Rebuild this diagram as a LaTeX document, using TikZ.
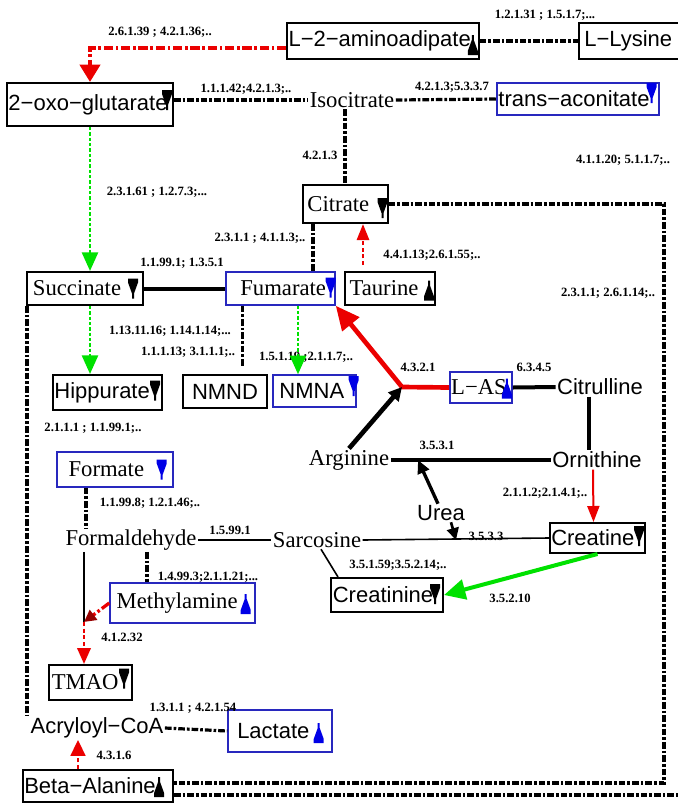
\documentclass[tikz,border=0pt]{standalone}
\usepackage{fontspec}
\setmainfont{Liberation Serif}
\setsansfont{Liberation Sans}
\usetikzlibrary{arrows.meta,calc}

\definecolor{boxblue}{RGB}{40,40,190}
\definecolor{mkblue}{RGB}{0,0,230}
\definecolor{ecred}{RGB}{235,0,0}
\definecolor{ecgreen}{RGB}{0,225,0}
\definecolor{darkred}{RGB}{150,0,0}

% 1px = 0.75pt
\newlength{\px}\setlength{\px}{0.75pt}

% 増減マーク(下向き/上向き)
\newcommand{\dnmark}[2]{\fill[#2,shift={(#1)}] (-5,-10) -- ++(10,0) -- ++(0,4) -- ++(-4,11) -- ++(0,5) -- ++(-2,0) -- ++(0,-5) -- ++(-4,-11) -- cycle;}
\newcommand{\upmark}[2]{\fill[#2,shift={(#1)}] (-1,-10) -- ++(2,0) -- ++(0,5) -- ++(4,11) -- ++(0,4) -- ++(-10,0) -- ++(0,-4) -- ++(4,-11) -- cycle;}

\begin{document}
\begin{tikzpicture}[x=0.75pt,y=-0.75pt,
  met/.style={font=\fontsize{17}{18}\selectfont, inner sep=1pt},
  smet/.style={font=\sffamily\fontsize{16.5}{18}\selectfont, inner sep=1pt},
  box/.style={draw, line width=1.5pt},
  bluebox/.style={draw=boxblue, line width=1.1pt},
  ec/.style={font=\bfseries\fontsize{9.5}{11}\selectfont, inner sep=0pt},
  dd/.style={line width=2.4pt, dash pattern=on 5pt off 1.5pt on 2pt off 1.5pt},
  reddd/.style={draw=ecred, line width=3pt, dash pattern=on 7pt off 2pt on 2pt off 2pt},
  grdot/.style={draw=ecgreen, line width=2pt, dash pattern=on 2.5pt off 1.5pt},
  rdash/.style={draw=ecred, line width=2pt, dash pattern=on 3pt off 2pt},
  link/.style={line width=3pt},
  thinlink/.style={line width=1.2pt},
]
  \useasboundingbox (0,0) rectangle (678,804);

  % 代謝物
  \node[box,smet,minimum width=190\px,minimum height=36\px] (aadip) at (383,41) {L−2−aminoadipate\hspace*{5pt}};
  \node[box,smet,anchor=west,minimum height=36\px,inner xsep=4pt,text width=110pt,align=left] (lys) at (578,41) {L−Lysine};
  \node[box,smet,minimum width=166\px,minimum height=43\px] (oxo) at (90,104.5) {2−oxo−glutarate\hspace*{3pt}};
  \node[met] (iso) at (352,100) {Isocitrate};
  \node[bluebox,smet,minimum width=160\px,minimum height=32\px] (trans) at (578,99) {trans−aconitate\hspace*{6pt}};
  \node[box,met,minimum width=85\px,minimum height=38\px] (cit) at (345,204) {Citrate\hspace*{10pt}};
  \node[box,met,minimum width=116\px,minimum height=33\px] (succ) at (85,288.5) {Succinate\hspace*{12pt}};
  \node[bluebox,met,minimum width=109\px,minimum height=33\px] (fum) at (280.5,288.5) {\hspace*{4pt}Fumarate};
  \node[box,met,minimum width=90\px,minimum height=33\px] (taur) at (390,288.5) {Taurine\hspace*{9pt}};
  \node[box,smet,minimum width=109\px,minimum height=35\px] (hipp) at (107.5,392.5) {Hippurate\hspace*{8pt}};
  \node[box,smet,minimum width=84\px,minimum height=33\px] (nmnd) at (225,391.5) {NMND};
  \node[bluebox,smet,minimum width=83\px,minimum height=32\px] (nmna) at (314.5,391) {NMNA\hspace*{4pt}};
  \node[bluebox,met,minimum width=62\px,minimum height=31\px] (las) at (481,387.5) {L−AS\hspace*{3pt}};
  \node[smet] (citr) at (600,387) {Citrulline};
  \node[smet] (orn) at (597,460) {Ornithine};
  \node[met] (arg) at (349,460) {Arginine};
  \node[smet] (urea) at (441,513) {Urea};
  \node[bluebox,met,minimum width=116\px,minimum height=35\px] (formate) at (115,469.5) {Formate\hspace*{13pt}};
  \node[met] (formald) at (131,540) {Formaldehyde};
  \node[met] (sarc) at (317,540) {Sarcosine};
  \node[box,smet,minimum width=95\px,minimum height=30\px] (creat) at (597.5,538) {Creatine\hspace*{7pt}};
  \node[box,smet,minimum width=112\px,minimum height=34\px] (creatn) at (387,595) {Creatinine\hspace*{6pt}};
  \node[bluebox,met,minimum width=145\px,minimum height=40\px] (methyl) at (182.5,603) {Methylamine\hspace*{8pt}};
  \node[box,met,minimum width=83\px,minimum height=35\px] (tmao) at (90.5,682.5) {TMAO\hspace*{8pt}};
  \node[smet] (acryl) at (97,728) {Acryloyl−CoA};
  \node[bluebox,smet,minimum width=104\px,minimum height=42\px] (lact) at (280,731) {Lactate\hspace*{10pt}};
  \node[box,smet,minimum width=150\px,minimum height=32\px] (beta) at (98,786) {Beta−Alanine\hspace*{12pt}};

  % マーク
  \upmark{$(aadip.east)+(-7,4)$}{black}
  \dnmark{$(oxo.east)+(-7,-4.5)$}{black}
  \dnmark{$(trans.east)+(-8,-6)$}{mkblue}
  \dnmark{$(cit.east)+(-6,4)$}{black}
  \dnmark{$(succ.east)+(-11,0)$}{black}
  \dnmark{$(fum.east)+(-5,-1)$}{mkblue}
  \upmark{$(taur.east)+(-7,2)$}{black}
  \dnmark{$(hipp.east)+(-8,-2)$}{black}
  \dnmark{$(nmna.east)+(-3,-5)$}{mkblue}
  \upmark{$(las.east)+(-6,1)$}{mkblue}
  \dnmark{$(formate.east)+(-12,0)$}{mkblue}
  \dnmark{$(creat.east)+(-7,-2)$}{black}
  \dnmark{$(creatn.east)+(-9,-1)$}{black}
  \upmark{$(methyl.east)+(-10,1)$}{mkblue}
  \dnmark{$(tmao.east)+(-9,-4)$}{black}
  \upmark{$(lact.east)+(-14,2)$}{mkblue}
  \upmark{$(beta.east)+(-15,1)$}{black}

  % EC番号
  \node[ec] (ec1) at (160,32) {2.6.1.39 ; 4.2.1.36;..};
  \node[ec] (ec2) at (545,15) {1.2.1.31 ; 1.5.1.7;...};
  \node[ec] (ec3) at (246,89) {1.1.1.42;4.2.1.3;..};
  \node[ec] (ec4) at (452,87) {4.2.1.3;5.3.3.7};
  \node[ec] (ec5) at (320,155) {4.2.1.3};
  \node[ec] (ec6) at (157,192) {2.3.1.61 ; 1.2.7.3;...};
  \node[ec] (ec7) at (623,160) {4.1.1.20; 5.1.1.7;..};
  \node[ec] (ec8) at (260,238) {2.3.1.1 ; 4.1.1.3;..};
  \node[ec] (ec9) at (432,255) {4.4.1.13;2.6.1.55;..};
  \node[ec] (ec10) at (182,263) {1.1.99.1; 1.3.5.1};
  \node[ec] (ec11) at (608,293) {2.3.1.1; 2.6.1.14;..};
  \node[ec] (ec12) at (170,331) {1.13.11.16; 1.14.1.14;...};
  \node[ec] (ec13) at (188,352) {1.1.1.13; 3.1.1.1;..};
  \node[ec] (ec14) at (306,357) {1.5.1.19 ;2.1.1.7;..};
  \node[ec] (ec15) at (418,367) {4.3.2.1};
  \node[ec] (ec16) at (534,367) {6.3.4.5};
  \node[ec] (ec17) at (93,428) {2.1.1.1 ; 1.1.99.1;..};
  \node[ec] (ec18) at (437,445) {3.5.3.1};
  \node[ec] (ec19) at (545,493) {2.1.1.2;2.1.4.1;..};
  \node[ec] (ec20) at (150,503) {1.1.99.8; 1.2.1.46;..};
  \node[ec] (ec21) at (230,530) {1.5.99.1};
  \node[ec] (ec22) at (486,536) {3.5.3.3};
  \node[ec] (ec23) at (398,565) {3.5.1.59;3.5.2.14;..};
  \node[ec] (ec24) at (208,577) {1.4.99.3;2.1.1.21;...};
  \node[ec] (ec25) at (510,598) {3.5.2.10};
  \node[ec] (ec26) at (122,637) {4.1.2.32};
  \node[ec] (ec27) at (193,708) {1.3.1.1 ; 4.2.1.54};
  \node[ec] (ec28) at (114,755) {4.3.1.6};

  % 反応
  \draw[reddd,-{Triangle[length=13pt,width=15pt]}] ([yshift=-5.25pt]aadip.west) -| (oxo.north);
  \draw[dd] (aadip.east) -- (lys.west);
  \draw[dd] (oxo.east |- iso.west) -- (iso.west);
  \draw[dd] (iso.east) -- (trans.west);
  \draw[dd] (cit.north |- iso.south) -- (cit.north);
  \draw[grdot,-{Triangle[length=14pt,width=12pt]}] (oxo.south) -- (oxo.south |- succ.north);
  \coordinate (c1) at ($(cit.south)+(-32,0)$);
  \draw[dd] (c1) -- (c1 |- fum.north);
  \coordinate (t1) at ($(taur.north)+(-27,-6)$);
  \draw[rdash,-{Triangle[length=12pt,width=9pt]}] (t1) -- (t1 |- cit.south);
  \coordinate (rc) at (664,783);
  \draw[dd] (cit.east) -| (rc) -- (rc -| beta.east);
  \coordinate (rr) at (700,795);
  \draw[dd] (rr -| beta.east) -- (rr);
  \draw[link] (succ.east) -- (fum.west);
  \draw[grdot,-{Triangle[length=14pt,width=12pt]}] (succ.south -| oxo.south) -- (hipp.north -| oxo.south);
  \coordinate (f1) at ($(fum.south)+(-38,0)$);
  \draw[dd,shorten >=5pt] (f1) -- (f1 |- nmnd.north);
  \coordinate (f2) at ($(fum.south)+(17.5,0)$);
  \draw[grdot,-{Triangle[length=14pt,width=12pt]}] (f2) -- (f2 |- nmna.north);
  \coordinate (jn) at (402,387);
  \draw[ecred,line width=3.5pt,-{Triangle[length=18pt,width=16pt]}] (las.west) -- (jn) -- (fum.south east);
  \draw[line width=3.5pt,-{Triangle[length=10pt,width=10pt]}] (arg.north) -- (jn);
  \draw[link] (las.east) -- (citr.west);
  \draw[link] ($(citr.south)+(-11,0)$) -- ($(orn.north)+(-8,0)$);
  \draw[line width=3.5pt] (orn.west) -- (arg.east);
  \coordinate (ju) at (418,460);
  \draw[line width=2.5pt,-{Triangle[length=10pt,width=9pt]}] ($(urea.north)+(-3,0)$) -- (ju);
  \draw[ecred,line width=1.5pt,-{Triangle[length=12pt,width=9pt]}] ($(orn.south)+(-4,0)$) -- ($(creat.north)+(-4,0)$);
  \draw[thinlink] (sarc.east) -- (creat.west);
  \coordinate (jc) at (456,540);
  \draw[line width=2pt,-{Triangle[length=9pt,width=9pt]}] ($(urea.south)+(10,0)$) -- (jc);
  \draw[ecgreen,line width=3pt,-{Triangle[length=16pt,width=15pt]}] (creat.south) -- (creatn.east);
  \draw[thinlink] ($(sarc.south)+(4,0)$) -- ($(creatn.north west)+(8,0)$);
  \draw[thinlink] (formald.east) -- (sarc.west);
  \coordinate (fo) at ($(formate.south)+(-29,0)$);
  \draw[dd] (fo) -- (fo |- formald.north);
  \coordinate (fm) at ($(formald.south)+(16,0)$);
  \draw[dd] (fm) -- (fm |- methyl.north);
  \coordinate (jt) at (84,622);
  \draw[line width=2pt] (formald.south -| jt) -- (jt);
  \draw[reddd,line width=2.5pt,-{Triangle[length=9pt,width=9pt,color=darkred]}] (methyl.west) -- (jt);
  \draw[rdash,-{Triangle[length=12pt,width=10pt]}] (jt) -- (jt |- tmao.north);
  \draw[dd] (acryl.east) -- (lact.west);
  \coordinate (b1) at ($(beta.north)+(-20,0)$);
  \draw[rdash,-{Triangle[length=12pt,width=11pt]}] (b1) -- (b1 |- acryl.south);
  \coordinate (s2) at ($(succ.south west)+(1,0)$);
  \draw[dd] (s2) -- (s2 |- acryl.north);
\end{tikzpicture}
\end{document}
